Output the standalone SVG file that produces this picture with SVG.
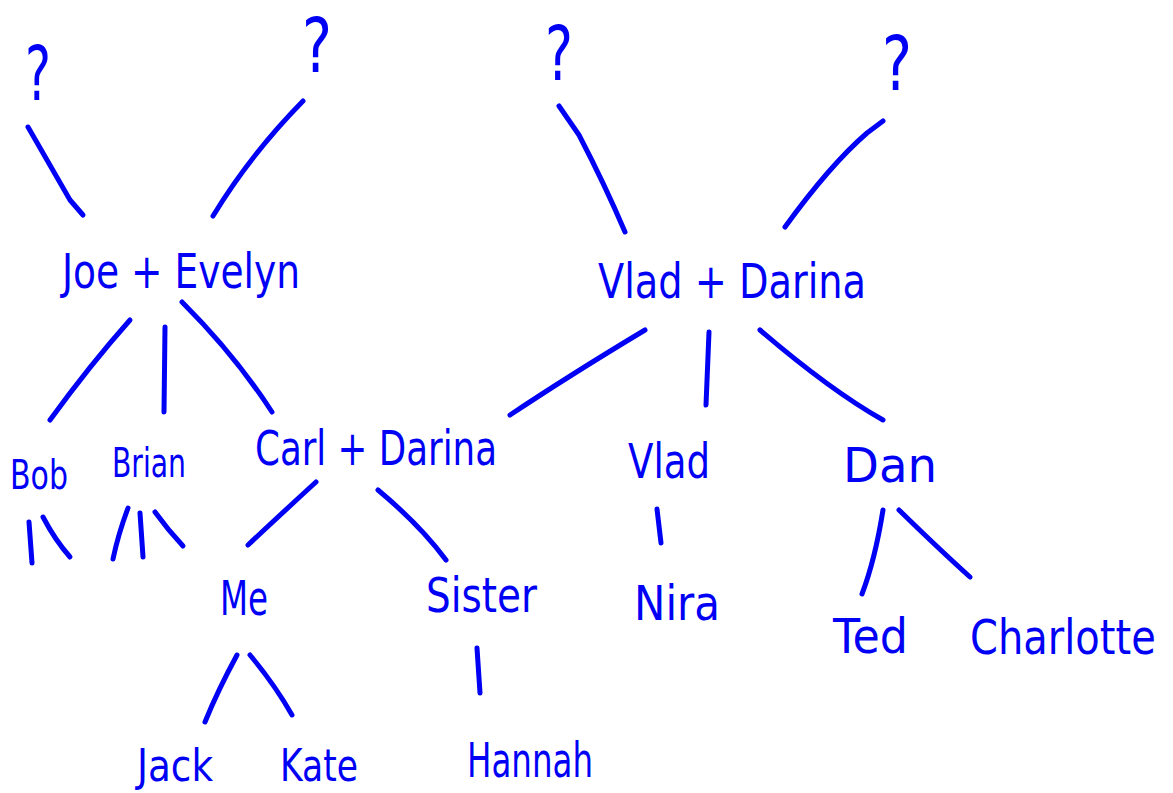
<svg xmlns="http://www.w3.org/2000/svg" width="1173" height="793" viewBox="0 0 1173 793">
<style>
.bg{fill:#ffffff}
.l{fill:none;stroke:#0000f5;stroke-width:5;stroke-linecap:round;stroke-linejoin:round}
text{font-family:"DejaVu Sans","Liberation Sans",sans-serif;fill:#0000f5;font-weight:normal}
.q{font-size:74px}
.n{font-size:48px}
.s{font-size:40px}
.b{font-size:45px}
</style>
<rect class="bg" x="0" y="0" width="1173" height="793"/>
<g id="q1"><text class="q" x="25" y="100" textLength="26" lengthAdjust="spacingAndGlyphs">?</text></g>
<g id="q2"><text class="q" x="302" y="72" textLength="30" lengthAdjust="spacingAndGlyphs">?</text></g>
<g id="q3"><text class="q" x="545" y="80" textLength="28" lengthAdjust="spacingAndGlyphs">?</text></g>
<g id="q4"><text class="q" x="882" y="90" textLength="30" lengthAdjust="spacingAndGlyphs">?</text></g>
<g id="joe-evelyn"><text class="n" x="62" y="288" textLength="238" lengthAdjust="spacingAndGlyphs">Joe + Evelyn</text></g>
<g id="vlad-darina"><text class="n" x="598" y="298" textLength="268" lengthAdjust="spacingAndGlyphs">Vlad + Darina</text></g>
<g id="bob"><text class="s" x="10" y="489" textLength="58" lengthAdjust="spacingAndGlyphs">Bob</text></g>
<g id="brian"><text class="s" x="112" y="477" textLength="74" lengthAdjust="spacingAndGlyphs">Brian</text></g>
<g id="carl-darina"><text class="n" x="255" y="465" textLength="242" lengthAdjust="spacingAndGlyphs">Carl + Darina</text></g>
<g id="vlad"><text class="n" x="628" y="478" textLength="82" lengthAdjust="spacingAndGlyphs">Vlad</text></g>
<g id="dan"><text class="n" x="843" y="482" textLength="94" lengthAdjust="spacingAndGlyphs">Dan</text></g>
<g id="me"><text class="n" x="220" y="615" textLength="48" lengthAdjust="spacingAndGlyphs">Me</text></g>
<g id="sister"><text class="n" x="426" y="612" textLength="111" lengthAdjust="spacingAndGlyphs">Sister</text></g>
<g id="nira"><text class="n" x="634" y="620" textLength="86" lengthAdjust="spacingAndGlyphs">Nira</text></g>
<g id="ted"><text class="n" x="833" y="653" textLength="75" lengthAdjust="spacingAndGlyphs">Ted</text></g>
<g id="charlotte"><text class="s" x="0" y="0" transform="translate(970,654) scale(1,1.2)">Charlotte</text></g>
<g id="jack"><text class="b" x="137" y="781" textLength="76" lengthAdjust="spacingAndGlyphs">Jack</text></g>
<g id="kate"><text class="b" x="280" y="781" textLength="78" lengthAdjust="spacingAndGlyphs">Kate</text></g>
<g id="hannah"><text class="n" x="467" y="777" textLength="126" lengthAdjust="spacingAndGlyphs">Hannah</text></g>
<g id="connectors">
<path class="l" d="M28,127 L70,200 L83,215"/>
<path class="l" d="M303,101 Q250,155 213,216"/>
<path class="l" d="M559,106 L579,135 Q605,185 625,232"/>
<path class="l" d="M883,121 L867,133 Q830,165 785,227"/>
<path class="l" d="M130,320 Q90,365 50,420"/>
<path class="l" d="M165,327 L164,412"/>
<path class="l" d="M182,302 Q235,355 272,412"/>
<path class="l" d="M645,330 Q570,375 510,415"/>
<path class="l" d="M709,332 L706,405"/>
<path class="l" d="M760,330 Q830,390 883,420"/>
<path class="l" d="M29,522 L32,563"/>
<path class="l" d="M43,517 Q55,540 70,557"/>
<path class="l" d="M128,508 Q118,535 113,559"/>
<path class="l" d="M140,513 L143,557"/>
<path class="l" d="M155,512 Q168,530 183,546"/>
<path class="l" d="M316,482 Q280,515 248,545"/>
<path class="l" d="M378,490 Q420,525 446,560"/>
<path class="l" d="M657,509 L661,543"/>
<path class="l" d="M883,510 Q875,560 862,594"/>
<path class="l" d="M899,510 Q940,550 970,577"/>
<path class="l" d="M237,655 Q218,690 205,722"/>
<path class="l" d="M250,655 Q275,685 292,715"/>
<path class="l" d="M477,648 L480,693"/>
</g>
</svg>
